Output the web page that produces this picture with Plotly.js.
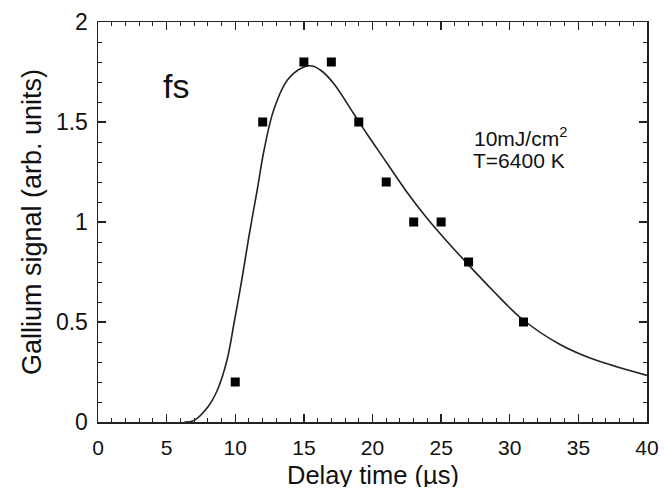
<!DOCTYPE html>
<html><head><meta charset="utf-8">
<script src="https://cdn.plot.ly/plotly-3.0.1.min.js"></script>
<style>html,body{margin:0;padding:0;background:#fff}#chart{width:664px;height:488px}</style>
</head><body><div id="chart"></div>
<script>
// measured data points
const delayTime = [10, 12, 15, 17, 19, 21, 23, 25, 27, 31];
const gallium = [0.2, 1.5, 1.8, 1.8, 1.5, 1.2, 1.0, 1.0, 0.8, 0.5];
// fitted curve
const fitTime = [6.3, 7.0, 8.0, 8.7, 9.4, 9.9, 10.5, 11.0, 11.6, 12.1, 12.8, 13.8, 15.0, 15.6, 16.3, 17.2, 18.6, 19.6, 21.0, 22.5, 23.9, 25.4, 26.8, 28.8, 30.9, 33.6, 36.0, 40.0];
const fitSignal = [0.0, 0.008, 0.075, 0.16, 0.31, 0.49, 0.72, 0.93, 1.16, 1.36, 1.56, 1.71, 1.775, 1.78, 1.755, 1.69, 1.545, 1.44, 1.30, 1.15, 1.025, 0.905, 0.80, 0.655, 0.515, 0.39, 0.316, 0.233];
const xTicks = [0, 5, 10, 15, 20, 25, 30, 35, 40];
const yTicks = [0, 0.5, 1, 1.5, 2];
const yTickText = ['0', '0.5', '1', '1.5', '2'];

const font = 'Liberation Sans, Arial, Helvetica, sans-serif';
const axisCommon = {
  showline: true, linecolor: '#222', linewidth: 1.5, mirror: 'ticks',
  ticks: 'inside', ticklen: 8, tickwidth: 1.3, tickcolor: '#222',
  showgrid: false, zeroline: false,
  tickfont: {family: font, size: 23, color: '#111'}
};

const traces = [
  {x: fitTime, y: fitSignal, type: 'scatter', mode: 'lines',
   line: {color: '#222', width: 1.6, shape: 'spline', smoothing: 1}, hoverinfo: 'skip'},
  {x: delayTime, y: gallium, type: 'scatter', mode: 'markers',
   marker: {symbol: 'square', size: 9, color: '#000'}}
];

const layout = {
  width: 664, height: 488,
  margin: {l: 98, r: 17, t: 22, b: 66},
  paper_bgcolor: '#fff', plot_bgcolor: '#fff',
  showlegend: false,
  xaxis: Object.assign({}, axisCommon, {
    range: [0, 40], tickvals: xTicks, ticktext: xTicks.map(String),
    tickfont: {family: font, size: 21, color: '#111'},
    ticklabelstandoff: 6, automargin: false,
    minor: {dtick: 1, ticks: 'inside', ticklen: 4, tickcolor: '#222', tickwidth: 1}
  }),
  yaxis: Object.assign({}, axisCommon, {
    range: [0, 2], tickvals: yTicks, ticktext: yTickText,
    ticklabelstandoff: 4, automargin: false,
    minor: {dtick: 0.1, ticks: 'inside', ticklen: 4, tickcolor: '#222', tickwidth: 1},
    title: {text: 'Gallium signal (arb. units)', font: {family: font, size: 27, color: '#111'}, standoff: 6}
  }),
  annotations: [
    {x: 0.5, y: 0, xref: 'paper', yref: 'paper', yshift: -66, yanchor: 'bottom',
     height: 25, borderpad: 0,
     text: 'Delay time (\u00b5s)', showarrow: false,
     font: {family: font, size: 25.5, color: '#111'}},
    {x: 5.7, y: 1.68, xref: 'x', yref: 'y', text: 'fs', showarrow: false,
     font: {family: font, size: 34, color: '#111'}},
    {x: 30.75, y: 1.425, xref: 'x', yref: 'y', text: '10mJ/cm<sup>2</sup>', showarrow: false,
     height: 22, borderpad: 0, font: {family: font, size: 21, color: '#111'}},
    {x: 30.7, y: 1.31, xref: 'x', yref: 'y', text: 'T=6400 K', showarrow: false,
     height: 22, borderpad: 0, font: {family: font, size: 21, color: '#111'}}
  ]
};

Plotly.newPlot('chart', traces, layout, {displayModeBar: false, staticPlot: true});
</script>
</body></html>
